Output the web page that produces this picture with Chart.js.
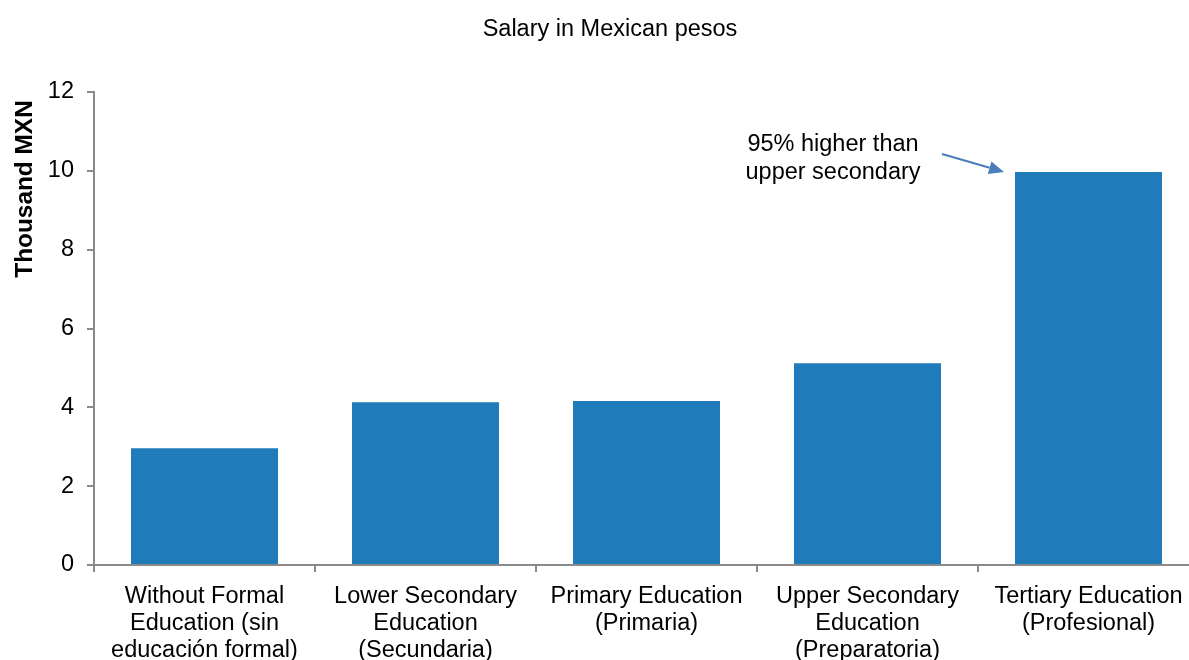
<!DOCTYPE html>
<html>
<head>
<meta charset="utf-8">
<script src="https://cdn.jsdelivr.net/npm/chart.js@4/dist/chart.umd.min.js"></script>
<style>
  html, body { margin: 0; padding: 0; background: #fff; overflow: hidden; }
  #wrap { width: 1220px; height: 660px; }
</style>
</head>
<body>
<div id="wrap"><canvas id="c" width="1220" height="660"></canvas></div>
<script>
const chartTitle = 'Salary in Mexican pesos';
const yAxisTitle = 'Thousand MXN';
const categories = [
  ['Without Formal', 'Education (sin', 'educación formal)'],
  ['Lower Secondary', 'Education', '(Secundaria)'],
  ['Primary Education', '(Primaria)'],
  ['Upper Secondary', 'Education', '(Preparatoria)'],
  ['Tertiary Education', '(Profesional)']
];
const salaryThousandMXN = [2.96, 4.13, 4.16, 5.12, 9.97];
const yTicks = [0, 2, 4, 6, 8, 10, 12];
const annotationLines = ['95% higher than', 'upper secondary'];
const annotatedIndex = 4;

const FONT = "'Liberation Sans', Arial, sans-serif";
const AXIS = '#8a8a8a';
const FS = 23.5;

const titlePlugin = {
  id: 'customTitle',
  afterDraw(chart) {
    const ctx = chart.ctx;
    ctx.save();
    ctx.font = FS + 'px ' + FONT;
    ctx.fillStyle = '#000';
    ctx.textAlign = 'center';
    ctx.textBaseline = 'middle';
    ctx.fillText(chartTitle, 610, 30);
    // y-axis title
    ctx.translate(25, 189);
    ctx.rotate(-Math.PI / 2);
    ctx.font = 'bold 24.4px ' + FONT;
    ctx.fillText(yAxisTitle, 0, 0);
    ctx.restore();
  }
};

const annotationPlugin = {
  id: 'arrowNote',
  afterDatasetsDraw(chart) {
    const bar = chart.getDatasetMeta(0).data[annotatedIndex];
    if (!bar) return;
    const ctx = chart.ctx;
    const left = bar.x - bar.width / 2;
    const tipX = left - 11, tipY = bar.y;
    const startX = tipX - 62, startY = tipY - 18;
    ctx.save();
    ctx.strokeStyle = '#4a7ebb';
    ctx.fillStyle = '#4a7ebb';
    ctx.lineWidth = 2;
    const ang = Math.atan2(tipY - startY, tipX - startX);
    const hl = 15, hw = 6.5;
    const bx = tipX - hl * Math.cos(ang), by = tipY - hl * Math.sin(ang);
    ctx.beginPath();
    ctx.moveTo(startX, startY);
    ctx.lineTo(bx, by);
    ctx.stroke();
    ctx.beginPath();
    ctx.moveTo(tipX, tipY);
    ctx.lineTo(bx + hw * Math.sin(ang), by - hw * Math.cos(ang));
    ctx.lineTo(bx - hw * Math.sin(ang), by + hw * Math.cos(ang));
    ctx.closePath();
    ctx.fill();
    ctx.font = FS + 'px ' + FONT;
    ctx.fillStyle = '#000';
    ctx.textAlign = 'center';
    ctx.textBaseline = 'middle';
    const cx = left - 182;
    ctx.fillText(annotationLines[0], cx, tipY - 28);
    ctx.fillText(annotationLines[1], cx, tipY);
    ctx.restore();
  }
};

new Chart(document.getElementById('c'), {
  type: 'bar',
  data: {
    labels: categories,
    datasets: [{
      data: salaryThousandMXN,
      backgroundColor: '#207bba',
      borderWidth: 0,
      barPercentage: 0.665,
      categoryPercentage: 1.0
    }]
  },
  options: {
    responsive: false,
    animation: false,
    layout: { padding: { top: 92, right: 21, left: 0, bottom: 0 } },
    plugins: {
      legend: { display: false },
      title: { display: false },
      tooltip: { enabled: false }
    },
    scales: {
      x: {
        z: 1,
        offset: true,
        grid: {
          offset: true,
          drawOnChartArea: false,
          drawTicks: true,
          tickLength: 7,
          color: AXIS,
          lineWidth: 2
        },
        border: { display: true, color: AXIS, width: 2 },
        ticks: {
          color: '#000',
          padding: 11,
          maxRotation: 0,
          autoSkip: false,
          font: { family: FONT, size: FS, lineHeight: 1.15 }
        },
        afterFit(s) { s.height = 95; }
      },
      y: {
        min: 0,
        max: 12,
        afterBuildTicks(s) { s.ticks = yTicks.map(v => ({ value: v })); },
        grid: {
          drawOnChartArea: false,
          drawTicks: true,
          tickLength: 7,
          color: AXIS,
          lineWidth: 2
        },
        border: { display: true, color: AXIS, width: 2 },
        ticks: {
          color: '#000',
          padding: 13,
          font: { family: FONT, size: FS }
        },
        title: { display: false },
        afterFit(s) { s.width = 94; }
      }
    }
  },
  plugins: [titlePlugin, annotationPlugin]
});
</script>
</body>
</html>
